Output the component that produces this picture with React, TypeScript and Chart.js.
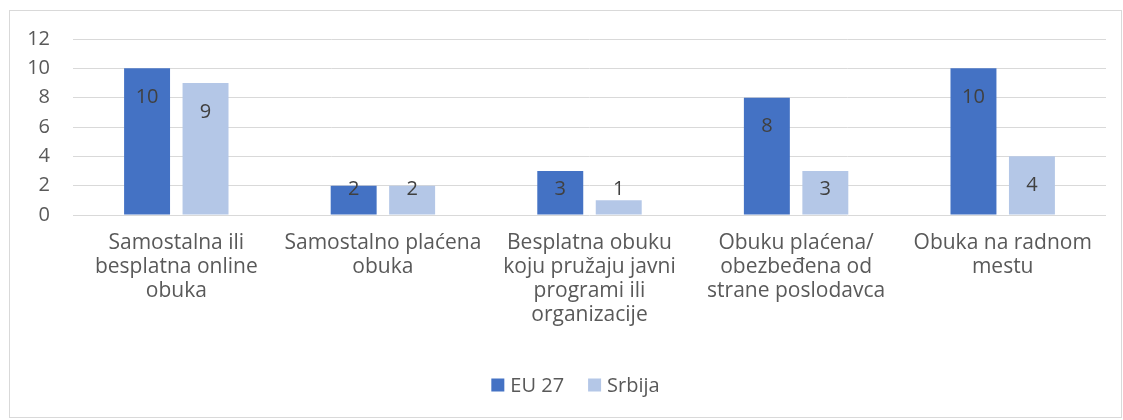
import React, { useEffect, useRef } from "react";
import { Chart, registerables } from "chart.js";

Chart.register(...registerables);

const categories: string[][] = [
  ["Samostalna ili", "besplatna online", "obuka"],
  ["Samostalno plaćena", "obuka"],
  ["Besplatna obuku", "koju pružaju javni", "programi ili", "organizacije"],
  ["Obuku plaćena/", "obezbeđena od", "strane poslodavca"],
  ["Obuka na radnom", "mestu"],
];
const euValues: number[] = [10, 2, 3, 8, 10];
const srbijaValues: number[] = [9, 2, 1, 3, 4];
const seriesNames: string[] = ["EU 27", "Srbija"];
const yTicks: number[] = [0, 2, 4, 6, 8, 10, 12];

const FONT = "'Open Sans', sans-serif";

const valueLabels = {
  id: "valueLabels",
  afterDatasetsDraw(chart: any) {
    const ctx = chart.ctx;
    ctx.save();
    ctx.font = `20px ${FONT}`;
    ctx.fillStyle = "#404040";
    ctx.textAlign = "center";
    ctx.textBaseline = "middle";
    chart.data.datasets.forEach((ds: any, i: number) => {
      const meta = chart.getDatasetMeta(i);
      meta.data.forEach((bar: any, j: number) => {
        const y = Math.min(bar.y + 29, bar.base - 25);
        ctx.fillText(String(ds.data[j]), bar.x, y);
      });
    });
    ctx.restore();
  },
};

const customLegend = {
  id: "customLegend",
  afterDraw(chart: any) {
    const ctx = chart.ctx;
    ctx.save();
    ctx.font = `20px ${FONT}`;
    ctx.textBaseline = "middle";
    const box = 13;
    const gapText = 6;
    const gapItem = 24;
    const items = chart.data.datasets.map((ds: any) => ({
      label: ds.label,
      color: ds.backgroundColor,
      w: box + gapText + ctx.measureText(ds.label).width,
    }));
    const total = items.reduce((s: number, it: any) => s + it.w, 0) + gapItem * (items.length - 1);
    let x = (chart.width - total) / 2 + 10;
    const y = 374;
    items.forEach((it: any) => {
      ctx.fillStyle = it.color;
      ctx.fillRect(x, y - box / 2, box, box);
      ctx.fillStyle = "#595959";
      ctx.textAlign = "left";
      ctx.fillText(it.label, x + box + gapText, y + 1);
      x += it.w + gapItem;
    });
    ctx.restore();
  },
};

export default function App() {
  const ref = useRef<HTMLCanvasElement | null>(null);
  useEffect(() => {
    if (!ref.current) return;
    const chart = new Chart(ref.current, {
      type: "bar",
      data: {
        labels: categories,
        datasets: [
          {
            label: seriesNames[0],
            data: euValues,
            backgroundColor: "#4472C4",
            categoryPercentage: 0.566,
            barPercentage: 0.786,
          },
          {
            label: seriesNames[1],
            data: srbijaValues,
            backgroundColor: "#B4C7E7",
            categoryPercentage: 0.566,
            barPercentage: 0.786,
          },
        ],
      },
      options: {
        animation: false,
        responsive: false,
        maintainAspectRatio: false,
        layout: { padding: { top: 28, right: 15, bottom: 72, left: 0 } },
        plugins: {
          legend: { display: false },
          tooltip: { enabled: false },
        },
        scales: {
          x: {
            grid: { display: false, drawTicks: false },
            border: { display: false },
            ticks: {
              color: "#595959",
              font: { family: FONT, size: 21, lineHeight: 1.143 },
              padding: 16,
              maxRotation: 0,
              autoSkip: false,
            },
            afterFit(scale: any) {
              scale.height = 130;
            },
          },
          y: {
            min: 0,
            max: 12,
            afterBuildTicks(scale: any) {
              scale.ticks = yTicks.map((v) => ({ value: v }));
            },
            grid: { color: "#D9D9D9", lineWidth: 1, drawTicks: false },
            border: { display: false },
            ticks: {
              color: "#595959",
              font: { family: FONT, size: 20 },
              padding: 23,
            },
            afterFit(scale: any) {
              scale.width = 63;
              scale.paddingTop = 0;
              scale.paddingBottom = 0;
            },
          },
        },
      },
      plugins: [valueLabels, customLegend],
    });
    return () => chart.destroy();
  }, []);
  return (
    <div
      style={{
        position: "absolute",
        left: 9,
        top: 10,
        width: 1113,
        height: 408,
        border: "1px solid #D9D9D9",
        boxSizing: "border-box",
        background: "#fff",
      }}
    >
      <canvas ref={ref} width={1111} height={406} style={{ display: "block" }} />
    </div>
  );
}
